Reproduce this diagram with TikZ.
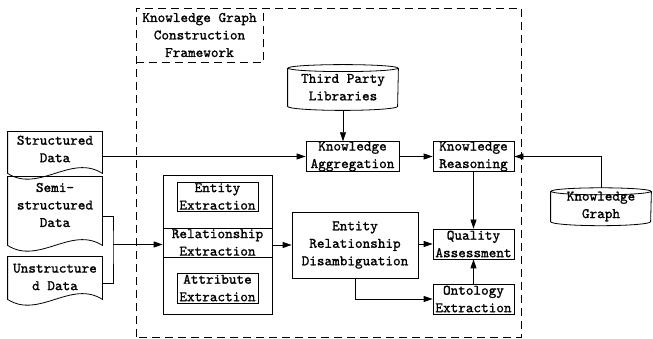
\documentclass[tikz,border=0pt]{standalone}
\usepackage{fontspec}
\newfontfamily\kgfont{lmmono10-regular.otf}[FakeBold=1.2]
\usetikzlibrary{arrows.meta}

\tikzset{
  box/.style={draw, align=center, inner sep=0pt, minimum width=81pt, minimum height=29pt},
  doc/.style={align=center, inner sep=0pt, minimum width=94pt},
  store/.style={align=center, inner sep=0pt},
  arr/.style={-{Triangle[length=9pt,width=6pt]}},
  kgframe/.style={dash pattern=on 8pt off 5pt},
}

\begin{document}
\begin{tikzpicture}[x=1pt,y=1pt,line width=0.8pt,
    font=\kgfont\fontsize{14.5}{17.5}\selectfont]
  \useasboundingbox (0,0) rectangle (653,339);
  % framework
  \draw[kgframe] (136,2) rectangle (521,331);
  \node[align=center, inner sep=0pt, minimum width=127pt, minimum height=54pt] (title) at (199.5,304) {Knowledge Graph\\Construction\\Framework};
  \draw[kgframe] (title.south west) -| (title.north east);
  % sources
  \node[doc, minimum height=34pt] (sd) at (55,190) {Structured\\Data};
  \node[doc, minimum height=56pt] (ssd) at (55,134) {Semi-\\structured\\Data};
  \node[doc, minimum height=40pt] (usd) at (55,62) {Unstructure\\d Data};
  \foreach \n/\d in {sd/7,ssd/12,usd/2}
    \draw (\n.north west) -- (\n.north east) -- ([yshift=-\d pt]\n.south east)
      .. controls +(-31,20) and +(31,-20) .. ([yshift=-\d pt]\n.south west) -- cycle;
  % stores
  \node[store, minimum width=110pt, minimum height=37.5pt] (tp) at (343,251.75) {Third Party\\Libraries};
  \node[store, minimum width=100pt, minimum height=27pt] (kg) at (601,132.5) {Knowledge\\Graph};
  \foreach \n/\rx in {tp/55,kg/50}
    \draw (\n.north west) -- (\n.south west) arc[start angle=180, end angle=360, x radius=\rx, y radius=4]
      -- (\n.north east) (\n.north) ellipse[x radius=\rx, y radius=3.5];
  % extraction
  \node[draw, inner sep=0pt, minimum width=109pt, minimum height=139pt] (ext) at (217.5,94.5) {};
  \node[box] (ent) at (217.5,142.5) {Entity\\Extraction};
  \node[box, minimum width=109pt] (rel) at (217.5,96.5) {Relationship\\Extraction};
  \node[box, minimum height=30pt] (att) at (217.5,51) {Attribute\\Extraction};
  % steps
  \node[box, minimum width=126pt, minimum height=66pt] (erd) at (355,94) {Entity\\Relationship\\Disambiguation};
  \node[box, minimum width=93pt] (agg) at (352.5,182.5) {Knowledge\\Aggregation};
  \node[box] (kr) at (473.5,182.5) {Knowledge\\Reasoning};
  \node[box, minimum height=30pt] (qa) at (473.5,95) {Quality\\Assessment};
  \node[box, minimum height=30pt] (onto) at (473.5,40) {Ontology\\Extraction};
  % links
  \coordinate (jn) at (113,94.5);
  \draw ([yshift=-11pt]ssd.east) -| (jn) |- ([yshift=-6pt]usd.east);
  \draw[arr] (jn) -- (ext.west);
  \draw[arr] (agg.west -| sd.east) -- (agg.west);
  \draw[arr] ([yshift=-4pt]tp.south) -- (tp.south |- agg.north);
  \draw[arr] (agg) -- (kr);
  \draw[arr] ([yshift=3.5pt]kg.north) |- (kr.east);
  \draw[arr] (kr) -- (qa);
  \draw[arr] (onto) -- (qa);
  \draw[arr] (ext.east |- erd.west) -- (erd.west);
  \draw[arr] (erd.east |- qa.west) -- (qa.west);
  \draw[arr] (erd.south) |- (onto.west);
\end{tikzpicture}
\end{document}
